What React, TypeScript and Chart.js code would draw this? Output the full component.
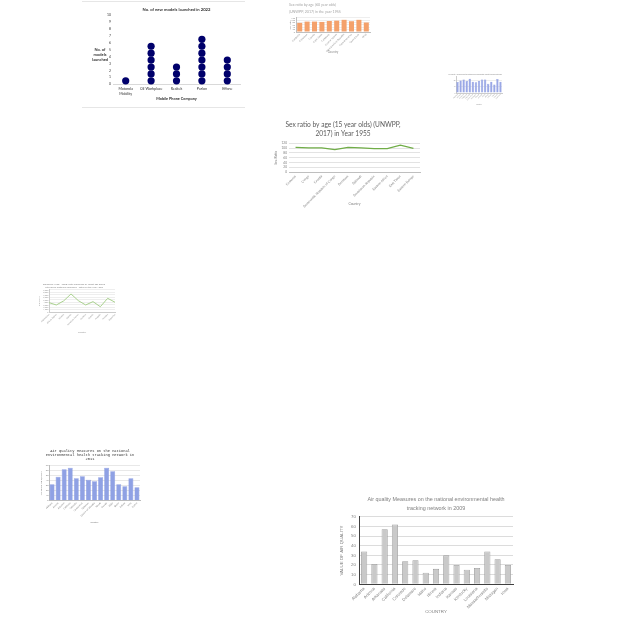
import React, { useEffect, useRef } from "react";
import { Chart, registerables } from "chart.js";
Chart.register(...registerables);

const SANS = "Lato, 'Open Sans', sans-serif";
const ARIAL = "'Liberation Sans', Arial, sans-serif";
const MONO = "'Liberation Mono', 'DejaVu Sans Mono', monospace";

// ---------- data ----------
const phoneCompanies = ["Motorola Mobility", "Oil Workplace", "Realtek", "Parlon", "Effone"];
const phoneModelCounts = [1, 6, 3, 7, 4];

const sr60Countries = ["Cambodia", "Cameroon", "Canada", "Cape Verde", "Caribbean", "Cayman Islands", "Central African Republic", "Central America", "Central Asia", "Chad"];
const sr60Values = [78, 89, 89, 86, 94, 97, 104, 92, 104, 81];

const smallAqStates = ["Alabama", "Arizona", "Arkansas", "California", "Colorado", "Connecticut", "Delaware", "Florida", "Georgia", "Idaho", "Illinois", "Indiana", "Iowa", "Kansas", "Kentucky"];
const smallAqValues = [68, 77, 83, 74, 89, 70, 66, 74, 83, 83, 57, 70, 53, 87, 70];

const sr15Countries = ["Comoros", "Congo", "Croatia", "Democratic Republic of Congo", "Denmark", "Djibouti", "Dominican Republic", "Eastern Africa", "East Timor", "Eastern Europe"];
const sr15Values = [103, 101, 101, 94, 103, 101, 98, 98, 112, 99];

const emissionCountries = ["Afghanistan", "African Region", "Albania", "Algeria", "American Samoa", "Andorra", "Angola", "Anguilla", "Antigua", "Argentina"];
const emissionValues = [3900, 2950, 4600, 7400, 4700, 2950, 4300, 2250, 5650, 4050];

const aq2011States = ["Alabama", "Arizona", "Arkansas", "California", "Colorado", "Connecticut", "Delaware", "District of Columbia", "Florida", "Georgia", "Idaho", "Illinois", "Indiana", "Iowa", "Kansas"];
const aq2011Values = [33, 48, 63, 66, 45, 49, 42, 39, 47, 66, 59, 33, 29, 45, 27];

const aq2009States = ["Alabama", "Arizona", "Arkansas", "California", "Colorado", "Delaware", "Idaho", "Illinois", "Indiana", "Kansas", "Kentucky", "Louisiana", "Massachusetts", "Michigan", "Iowa"];
const aq2009Values = [34, 21, 57, 62, 24, 25, 12, 16, 30, 20, 15, 17, 34, 26, 20];

// ---------- helpers ----------
const f = (family: string, size: number, extra: any = {}) => ({ family, size, ...extra });
const fixW = (w: number) => (s: any) => { s.width = w; };
const fixH = (h: number) => (s: any) => { s.height = h; };
const base = { responsive: false, animation: false, devicePixelRatio: 1, events: [] as any[] };

const sideTitle = (lines: string[], dx: number, dy: number, font: string, color: string, gap: number) => ({
  id: "sideTitle",
  afterDraw(chart: any) {
    const { ctx, chartArea } = chart;
    ctx.save();
    ctx.font = font;
    ctx.fillStyle = color;
    ctx.textAlign = "center";
    ctx.textBaseline = "middle";
    const cx = chartArea.left + dx;
    const cy = (chartArea.top + chartArea.bottom) / 2 + dy;
    lines.forEach((l, i) => ctx.fillText(l, cx, cy + (i - (lines.length - 1) / 2) * gap));
    ctx.restore();
  },
});

type Box = { left: number; top: number; width: number; height: number };

function ChartCanvas({ box, build }: { box: Box; build: () => any }) {
  const ref = useRef<HTMLCanvasElement>(null);
  useEffect(() => {
    const chart = new Chart(ref.current as HTMLCanvasElement, build());
    return () => chart.destroy();
  }, []);
  return (
    <canvas
      ref={ref}
      width={box.width}
      height={box.height}
      style={{ position: "absolute", left: box.left, top: box.top, width: box.width, height: box.height }}
    />
  );
}

// ---------- chart 1: dot plot ----------
function dotPlotConfig() {
  const points = phoneCompanies.flatMap((c, i) =>
    Array.from({ length: phoneModelCounts[i] }, (_, k) => ({ x: c, y: k + 0.5 }))
  );
  return {
    type: "line",
    data: {
      labels: phoneCompanies,
      datasets: [{
        data: points, showLine: false, pointRadius: 3.6, pointBackgroundColor: "#00006B",
        pointBorderColor: "#00006B", pointBorderWidth: 0, clip: false,
      }],
    },
    options: {
      ...base,
      layout: { padding: { left: 0, right: 4, top: 0, bottom: 0 } },
      plugins: {
        legend: { display: false }, tooltip: { enabled: false },
        title: {
          display: true, text: "No. of new models launched in 2022", fullSize: false, color: "#333",
          font: f(SANS, 4.2, { weight: "bold", lineHeight: 1.2 }), padding: { top: 4.9, bottom: 3.2 },
        },
      },
      scales: {
        x: {
          type: "category", offset: true,
          grid: { display: false, drawTicks: false },
          border: { display: true, color: "#d9d9d9" },
          ticks: {
            color: "#333", font: f(SANS, 3.6, { lineHeight: 1.2 }), padding: 2.6, maxRotation: 0, autoSkip: false,
            callback: function (this: any, v: any) {
              const l = this.getLabelForValue(v);
              return l.length > 14 ? l.split(" ") : l;
            },
          },
          title: { display: true, text: "Mobile Phone Company", color: "#333", font: f(SANS, 3.8, { weight: "bold", lineHeight: 1.2 }), padding: { top: 0, bottom: 5.6 } },
          afterFit: fixH(22.7),
        },
        y: {
          min: 0, max: 10,
          ticks: { stepSize: 1, color: "#333", font: f(SANS, 3.4), padding: 2, autoSkip: false },
          grid: { display: false, drawTicks: false }, border: { display: false },
          afterFit: fixW(29),
        },
      },
    },
    plugins: [sideTitle(["No. of", "models", "launched"], -13, 5.4, `bold 4px ${SANS}`, "#333", 5)],
  };
}

// ---------- chart 2: orange bars ----------
function sr60Config() {
  const tc = "#8c8c8c";
  return {
    type: "bar",
    data: { labels: sr60Countries, datasets: [{ data: sr60Values, backgroundColor: "#F4A16B", barPercentage: 0.8, categoryPercentage: 0.85 }] },
    options: {
      ...base,
      layout: { padding: { left: 6, right: 5, top: 0, bottom: 0 } },
      plugins: {
        legend: { display: false }, tooltip: { enabled: false },
        title: {
          display: true, align: "start", text: ["Sex ratio by age (60 year olds)", "(UNWPP, 2017) in the year 1955"],
          color: "#A6A6A6", font: f(SANS, 3.6, { weight: "normal", lineHeight: 1.8 }), padding: { top: 2, bottom: 3 },
        },
      },
      scales: {
        x: {
          grid: { display: false, drawTicks: false }, border: { color: "#bfbfbf" },
          ticks: { font: f(SANS, 2.4), color: tc, minRotation: 45, maxRotation: 45, autoSkip: false, padding: 1 },
          title: { display: true, text: "Country", font: f(SANS, 3), color: tc, padding: { top: 0, bottom: 4 } },
          afterFit: fixH(26),
        },
        y: {
          min: 0, max: 120,
          ticks: { stepSize: 20, font: f(SANS, 2.2), color: tc, padding: 1, autoSkip: false },
          grid: { color: "#eeeeee", drawTicks: false }, border: { color: "#bfbfbf" },
          title: { display: true, text: "Sex ratio", font: f(SANS, 2.4), color: tc, padding: { top: 0, bottom: 0 } },
          afterFit: fixW(7),
        },
      },
    },
  };
}

// ---------- chart 3: tiny blue bars ----------
function smallAqConfig() {
  const tc = "#999";
  return {
    type: "bar",
    data: { labels: smallAqStates, datasets: [{ data: smallAqValues, backgroundColor: "#9AA8E6", borderColor: "#7C8DDA", borderWidth: 0.4, barPercentage: 0.9, categoryPercentage: 0.85 }] },
    options: {
      ...base,
      layout: { padding: { left: 0, right: 4, top: 0, bottom: 0 } },
      plugins: {
        legend: { display: false }, tooltip: { enabled: false },
        title: {
          display: true, text: "Air quality Measures on the national environmental health tracking network",
          color: "#888", font: f(SANS, 1.9, { weight: "normal", lineHeight: 1.2 }), padding: { top: 2.8, bottom: 1.8 },
        },
      },
      scales: {
        x: {
          grid: { display: false, drawTicks: false }, border: { color: "#ccc" },
          ticks: { font: f(SANS, 1.6), color: tc, minRotation: 45, maxRotation: 45, autoSkip: false, padding: 0.5 },
          title: { display: true, text: "Country", font: f(SANS, 1.6), color: tc, padding: { top: 0, bottom: 1 } },
          afterFit: fixH(13),
        },
        y: {
          min: 0, max: 100,
          ticks: { stepSize: 20, font: f(SANS, 1.6), color: tc, padding: 0.5 },
          grid: { color: "#eeeeee", drawTicks: false }, border: { color: "#ccc" },
          afterFit: fixW(8),
        },
      },
    },
  };
}

// ---------- chart 4: green line ----------
function sr15Config() {
  const tc = "#7f7f7f";
  return {
    type: "line",
    data: { labels: sr15Countries, datasets: [{ data: sr15Values, borderColor: "#70AD47", borderWidth: 1.3, pointRadius: 0, tension: 0 }] },
    options: {
      ...base,
      layout: { padding: { left: 0, right: 10, top: 0, bottom: 0 } },
      plugins: {
        legend: { display: false }, tooltip: { enabled: false },
        title: {
          display: true, text: ["Sex ratio by age (15 year olds) (UNWPP,", "2017) in Year 1955"],
          color: "#595959", font: f(SANS, 6.6, { weight: "normal", lineHeight: 1.3 }), padding: { top: 3.7, bottom: 5.4 },
        },
      },
      scales: {
        x: {
          offset: true,
          grid: { display: false, drawTicks: false }, border: { color: "#bfbfbf" },
          ticks: { font: f(SANS, 3.3), color: tc, minRotation: 45, maxRotation: 45, autoSkip: false, padding: 2 },
          title: { display: true, text: "Country", font: f(SANS, 3.4, { lineHeight: 1.2 }), color: tc, padding: { top: 0, bottom: 3.6 } },
          afterFit: fixH(37.7),
        },
        y: {
          min: 0, max: 120,
          ticks: { stepSize: 20, font: f(SANS, 3.2), color: tc, padding: 2, autoSkip: false },
          grid: { color: "#e3e3e3", drawTicks: false }, border: { display: false },
          title: { display: true, text: "Sex Ratio", font: f(SANS, 3.4, { lineHeight: 1.2 }), color: tc, padding: { top: 7.6, bottom: 0 } },
          afterFit: fixW(23),
        },
      },
    },
  };
}

// ---------- chart 5: small light-green line ----------
function emissionConfig() {
  const tc = "#999";
  return {
    type: "line",
    data: { labels: emissionCountries, datasets: [{ data: emissionValues, borderColor: "#A9D18E", borderWidth: 1, pointRadius: 0, tension: 0 }] },
    options: {
      ...base,
      layout: { padding: { left: 0, right: 10, top: 0, bottom: 0 } },
      plugins: {
        legend: { display: false }, tooltip: { enabled: false },
        title: {
          display: true,
          text: ["Emissions 1998 - 2008: Total emissions by forest age group", "with mean methane emissions - Total for the year 1998"],
          color: "#888", font: f(SANS, 2.4, { weight: "normal", lineHeight: 1.35 }), padding: { top: 0.3, bottom: 1.2 },
        },
      },
      scales: {
        x: {
          grid: { display: false, drawTicks: false }, border: { color: "#ccc" },
          ticks: { font: f(SANS, 2.1), color: tc, minRotation: 45, maxRotation: 45, autoSkip: false, padding: 1 },
          title: { display: true, text: "Country", font: f(SANS, 2.3, { lineHeight: 1.2 }), color: tc, padding: { top: 0, bottom: 2.8 } },
          afterFit: fixH(23.7),
        },
        y: {
          min: 0, max: 9000,
          ticks: { stepSize: 1000, font: f(SANS, 2), color: tc, padding: 0.6, autoSkip: false },
          grid: { color: "#eeeeee", drawTicks: false }, border: { color: "#ccc" },
          title: { display: true, text: "Emissions", font: f(SANS, 2.3, { lineHeight: 1.2 }), color: tc, padding: { top: 4.8, bottom: 0 } },
          afterFit: fixW(16),
        },
      },
    },
  };
}

// ---------- chart 6: 2011 periwinkle bars ----------
function aq2011Config() {
  const tc = "#777";
  return {
    type: "bar",
    data: { labels: aq2011States, datasets: [{ data: aq2011Values, backgroundColor: "#8FA1E4", borderColor: "#7186D9", borderWidth: 0.5, barPercentage: 0.9, categoryPercentage: 0.9 }] },
    options: {
      ...base,
      layout: { padding: { left: 0, right: 5, top: 0, bottom: 0 } },
      plugins: {
        legend: { display: false }, tooltip: { enabled: false },
        title: {
          display: true,
          text: ["Air quality Measures on the national", "environmental health tracking network in", "2011"],
          color: "#333", font: f(MONO, 3.7, { weight: "normal", lineHeight: 1.1 }), padding: { top: 2, bottom: 4.5 },
        },
      },
      scales: {
        x: {
          grid: { display: false, drawTicks: false }, border: { color: "#bbb" },
          ticks: { font: f(SANS, 2.2), color: tc, minRotation: 45, maxRotation: 45, autoSkip: false, padding: 1 },
          title: { display: true, text: "country", font: f(SANS, 2.4, { lineHeight: 1.2 }), color: tc, padding: { top: 0, bottom: 2.5 } },
          afterFit: fixH(25.3),
        },
        y: {
          min: 0, max: 70,
          ticks: { stepSize: 10, font: f(SANS, 2.2), color: tc, padding: 0.6, autoSkip: false },
          grid: { color: "#e8e8e8", drawTicks: false }, border: { color: "#bbb" },
          title: { display: true, text: "VALUE OF AIR QUALITY", font: f(SANS, 2.2, { lineHeight: 1.2 }), color: tc, padding: { top: 0.3, bottom: 0 } },
          afterFit: fixW(9),
        },
      },
    },
  };
}

// ---------- chart 7: 2009 gray bars ----------
function aq2009Config() {
  const tc = "#808080";
  return {
    type: "bar",
    data: { labels: aq2009States, datasets: [{ data: aq2009Values, backgroundColor: "#C9C9C9", borderColor: "#9C9C9C", borderWidth: 0.8, barPercentage: 0.75, categoryPercentage: 0.8 }] },
    options: {
      ...base,
      layout: { padding: { left: 0, right: 7, top: 0, bottom: 0 } },
      plugins: {
        legend: { display: false }, tooltip: { enabled: false },
        title: {
          display: true, fullSize: false,
          text: ["Air quality Measures on the national environmental health", "tracking network in 2009"],
          color: tc, font: f(ARIAL, 5.4, { weight: "normal", lineHeight: 1.65 }), padding: { top: 5.5, bottom: 3.4 },
        },
      },
      scales: {
        x: {
          grid: { display: false, drawTicks: false }, border: { color: "#404040" },
          ticks: { font: f(ARIAL, 4.2), color: tc, minRotation: 45, maxRotation: 45, autoSkip: false, padding: 2 },
          title: { display: true, text: "COUNTRY", font: f(ARIAL, 4.4, { lineHeight: 1.2 }), color: tc, padding: { top: 0, bottom: 5.3 } },
          afterFit: fixH(35.7),
        },
        y: {
          min: 0, max: 70,
          ticks: { stepSize: 10, font: f(ARIAL, 4.4), color: tc, padding: 3, autoSkip: false },
          grid: { color: "#dcdcdc", drawTicks: false }, border: { color: "#404040" },
          title: { display: true, text: "VALUE OF AIR QUALITY", font: f(ARIAL, 4.4, { lineHeight: 1.2 }), color: tc, padding: { top: 3.3, bottom: 0 } },
          afterFit: fixW(23),
        },
      },
    },
  };
}

export default function App() {
  return (
    <div style={{ position: "absolute", left: 0, top: 0, width: 640, height: 640, background: "#fff", overflow: "hidden" }}>
      <div style={{ position: "absolute", left: 82, top: 1, width: 163, height: 0, borderTop: "1px solid #e6e6e6" }} />
      <div style={{ position: "absolute", left: 82, top: 107, width: 163, height: 0, borderTop: "1px solid #e6e6e6" }} />
      <ChartCanvas box={{ left: 84, top: 2, width: 160, height: 105 }} build={dotPlotConfig} />
      <ChartCanvas box={{ left: 283, top: 0, width: 92, height: 58 }} build={sr60Config} />
      <ChartCanvas box={{ left: 448, top: 70, width: 58, height: 36 }} build={smallAqConfig} />
      <ChartCanvas box={{ left: 266, top: 117, width: 164, height: 93 }} build={sr15Config} />
      <ChartCanvas box={{ left: 33, top: 282, width: 92, height: 54 }} build={emissionConfig} />
      <ChartCanvas box={{ left: 40, top: 447, width: 105, height: 79 }} build={aq2011Config} />
      <ChartCanvas box={{ left: 336, top: 490, width: 184, height: 130 }} build={aq2009Config} />
    </div>
  );
}
